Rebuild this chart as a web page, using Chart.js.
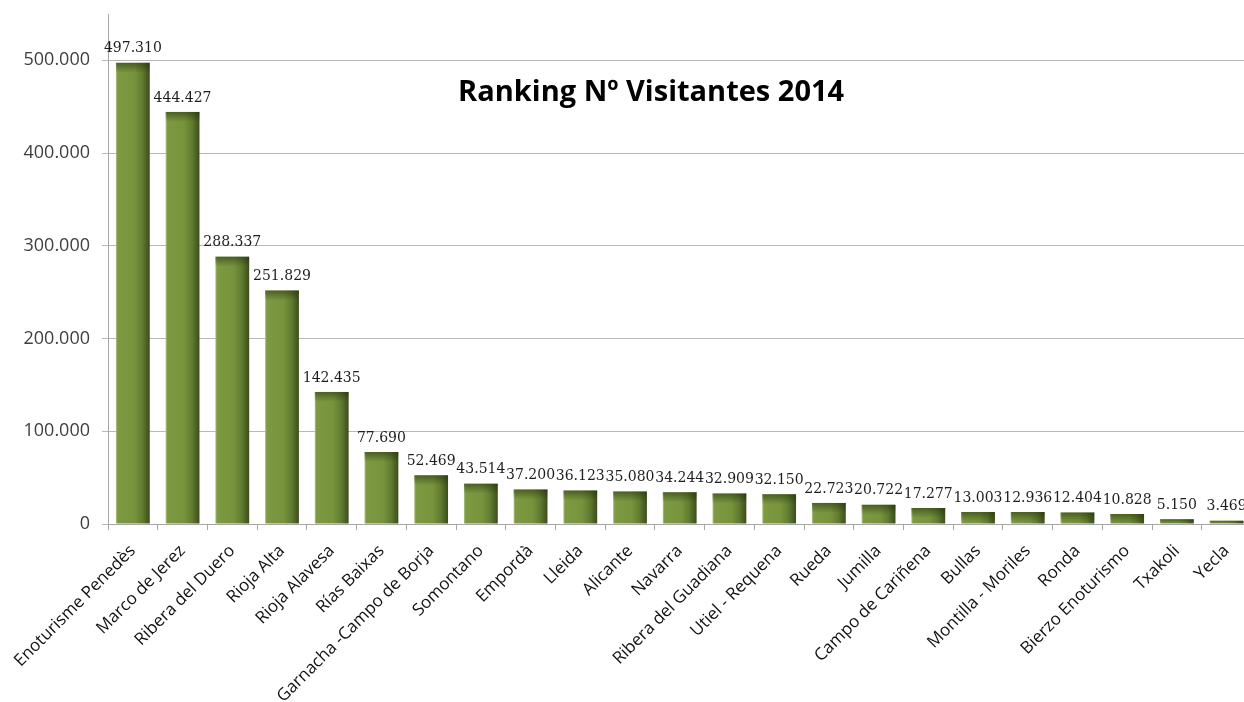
<!DOCTYPE html>
<html><head><meta charset="utf-8">
<script src="https://cdn.jsdelivr.net/npm/chart.js@4"></script>
<style>
html,body{margin:0;padding:0;overflow:hidden;background:#fff;width:1244px;height:702px}
#wrap{position:absolute;left:0;top:0;width:1252px;height:720px}
</style>
</head><body><div id="wrap"><canvas id="c"></canvas></div>
<script>
const categories = ['Enoturisme Penedès','Marco de Jerez','Ribera del Duero','Rioja Alta','Rioja Alavesa','Rías Baixas','Garnacha -Campo de Borja','Somontano','Empordà','Lleida','Alicante','Navarra','Ribera del Guadiana','Utiel - Requena','Rueda','Jumilla','Campo de Cariñena','Bullas','Montilla - Moriles','Ronda','Bierzo Enoturismo','Txakoli','Yecla'];
const visitors = [497310,444427,288337,251829,142435,77690,52469,43514,37200,36123,35080,34244,32909,32150,22723,20722,17277,13003,12936,12404,10828,5150,3469];
const yTickValues = [0,100000,200000,300000,400000,500000];
const yMax = 550000;
const chartTitle = 'Ranking Nº Visitantes 2014';

const barPct = 0.68;
function fmt(v){ return String(v).replace(/\B(?=(\d{3})+(?!\d))/g,'.'); }

const barShade = {
  id:'barShade',
  afterDatasetsDraw(chart){
    const ctx = chart.ctx;
    const meta = chart.getDatasetMeta(0);
    ctx.save();
    meta.data.forEach((el)=>{
      const w = el.width, left = el.x - w/2, top = el.y, h = Math.min(10, el.base - el.y);
      const g = ctx.createLinearGradient(0, top, 0, top + h);
      g.addColorStop(0,'rgba(35,48,12,0.55)');
      g.addColorStop(1,'rgba(35,48,12,0)');
      ctx.fillStyle = g;
      ctx.fillRect(left, top, w, h);
    });
    // value labels
    ctx.font = '14px "DejaVu Serif"';
    ctx.fillStyle = '#1e1e1e';
    ctx.textAlign = 'center';
    ctx.textBaseline = 'bottom';
    meta.data.forEach((el,i)=>{
      ctx.fillText(fmt(visitors[i]), el.x, el.y - 7);
    });
    // title
    const a = chart.chartArea;
    ctx.font = 'bold 29px "Open Sans"';
    ctx.fillStyle = '#000';
    ctx.textBaseline = 'middle';
    ctx.fillText(chartTitle, a.left + a.width*0.475, a.top + (a.bottom-a.top)*0.155);
    ctx.restore();
  }
};

new Chart(document.getElementById('c'), {
  type:'bar',
  data:{
    labels: categories,
    datasets:[{
      data: visitors,
      barPercentage: barPct,
      categoryPercentage: 1,
      borderWidth: 0,
      backgroundColor: (c)=>{
        const ch = c.chart, x = ch.scales && ch.scales.x;
        if (!x || !ch.chartArea) return '#77933c';
        const cx = x.getPixelForValue(c.dataIndex);
        const w = x.width / categories.length * barPct;
        const g = ch.ctx.createLinearGradient(cx - w/2, 0, cx + w/2, 0);
        g.addColorStop(0,'#b3c48a');
        g.addColorStop(0.05,'#7d9942');
        g.addColorStop(0.55,'#77933c');
        g.addColorStop(0.78,'#617b30');
        g.addColorStop(1,'#3b4d1b');
        return g;
      }
    }]
  },
  options:{
    responsive:true,
    maintainAspectRatio:false,
    animation:false,
    layout:{padding:{top:14,left:0,right:0,bottom:0}},
    plugins:{legend:{display:false},title:{display:false},tooltip:{enabled:false}},
    scales:{
      x:{
        afterFit:(s)=>{ s.height = 196; },
        grid:{offset:true,drawOnChartArea:false,tickLength:6,color:'#a6a6a6'},
        border:{color:'#a6a6a6'},
        ticks:{maxRotation:45,minRotation:45,autoSkip:false,padding:11,color:'#111',font:{family:'"Open Sans"',size:17}}
      },
      y:{
        min:0,max:yMax,
        afterBuildTicks:(s)=>{ s.ticks = yTickValues.map(v=>({value:v})); },
        afterFit:(s)=>{ s.width = 108; s.paddingTop = 0; s.paddingBottom = 0; },
        grid:{color:'#b8b8b8',tickLength:6},
        border:{color:'#a6a6a6'},
        ticks:{padding:12,color:'#404040',font:{family:'"Open Sans"',size:18},callback:(v)=>fmt(v)}
      }
    }
  },
  plugins:[barShade]
});
</script>
</body></html>
